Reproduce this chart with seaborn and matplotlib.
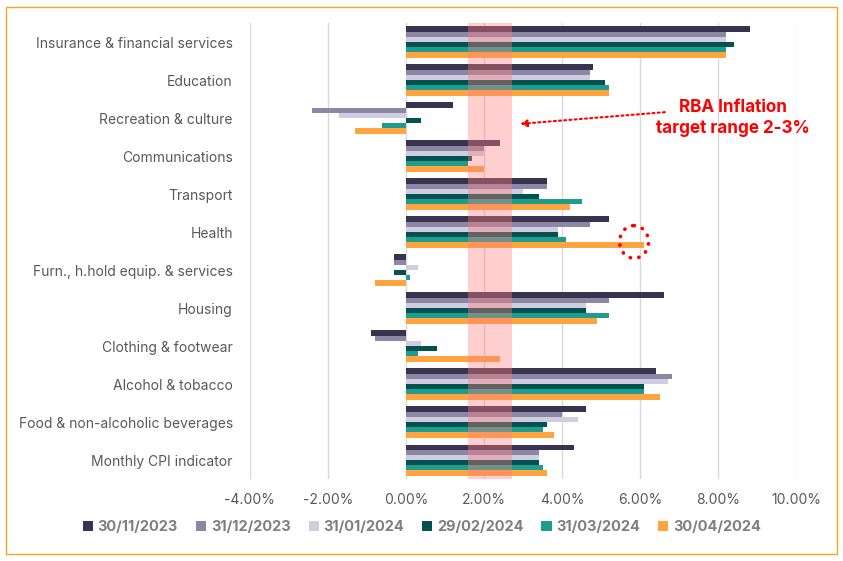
import pandas as pd
import numpy as np
import matplotlib
matplotlib.use("Agg")
import matplotlib.pyplot as plt
from matplotlib.patches import Rectangle, Ellipse
import seaborn as sns

categories = ["Insurance & financial services", "Education", "Recreation & culture",
              "Communications", "Transport", "Health",
              "Furn., h.hold equip. & services", "Housing", "Clothing & footwear",
              "Alcohol & tobacco", "Food & non-alcoholic beverages", "Monthly CPI indicator"]
dates = ["30/11/2023", "31/12/2023", "31/01/2024", "29/02/2024", "31/03/2024", "30/04/2024"]

nov23 = [8.8, 4.8, 1.2, 2.4, 3.6, 5.2, -0.3, 6.6, -0.9, 6.4, 4.6, 4.3]
dec23 = [8.2, 4.7, -2.4, 2.0, 3.6, 4.7, -0.3, 5.2, -0.8, 6.8, 4.0, 3.4]
jan24 = [8.2, 4.7, -1.7, 2.0, 3.0, 3.9, 0.3, 4.6, 0.4, 6.7, 4.4, 3.4]
feb24 = [8.4, 5.1, 0.4, 1.7, 3.4, 3.9, -0.3, 4.6, 0.8, 6.1, 3.6, 3.4]
mar24 = [8.2, 5.2, -0.6, 1.6, 4.5, 4.1, 0.1, 5.2, 0.3, 6.1, 3.5, 3.5]
apr24 = [8.2, 5.2, -1.3, 2.0, 4.2, 6.1, -0.8, 4.9, 2.4, 6.5, 3.8, 3.6]

colors = ["#3A3350", "#8B87A5", "#D0CDE1", "#03524F", "#1E9C8E", "#FFA440"]

series = [nov23, dec23, jan24, feb24, mar24, apr24]
rows = []
for d, vals in zip(dates, series):
    for c, v in zip(categories, vals):
        rows.append({"cat": c, "date": d, "value": v})
df = pd.DataFrame(rows)

sns.set_style("white")
plt.rcParams['font.family'] = ['Inter', 'DejaVu Sans']

fig = plt.figure(figsize=(8.43, 5.61), dpi=100)
ax = fig.add_axes([0.296, 0.146, 0.649, 0.813])

sns.barplot(data=df, x="value", y="cat", hue="date", order=categories,
            hue_order=dates, palette=colors, orient="h", width=0.82,
            saturation=1, linewidth=0, ax=ax, legend=True)

ax.set_xlim(-4, 10.0)
ax.set_ylim(len(categories) - 0.5, -0.5)
ax.set_xticks(np.arange(-4, 11, 2))
ax.set_xticklabels([f"{t:.2f}%" for t in np.arange(-4, 11, 2)])
ax.grid(axis="x", color="#D9D9D9", lw=1)
ax.set_axisbelow(True)
for s in ax.spines.values():
    s.set_visible(False)
ax.set_xlabel("")
ax.set_ylabel("")
ax.tick_params(axis="both", length=0, labelsize=10, labelcolor="#595959")
ax.tick_params(axis="y", pad=12)
ax.tick_params(axis="x", pad=10)

# RBA target band
ax.axvspan(1.58, 2.71, color="#FF8080", alpha=0.38, lw=0, zorder=5)

# annotation
ax.annotate("", xy=(2.85, 2.16), xytext=(6.7, 1.84),
            arrowprops=dict(arrowstyle="-|>", color="red", ls=(0, (1, 1.5)), lw=1.5,
                            mutation_scale=10))
ax.text(8.36, 2.0, "RBA Inflation\ntarget range 2-3%", color="red", fontsize=12.3,
        fontweight="bold", ha="center", va="center", linespacing=1.25)
circ = Ellipse((5.84, 5.26), 0.74, 0.86, fill=False, ec="red", lw=2.6,
               ls=(0, (0.1, 2.3)), zorder=6)
circ.set_capstyle("round")
ax.add_patch(circ)

leg = ax.legend(loc="center", bbox_to_anchor=(0.315, -0.105), ncol=6, frameon=False,
                handlelength=0.7, handleheight=0.7, handletextpad=0.3, columnspacing=1.25,
                fontsize=10.5)
for t in leg.get_texts():
    t.set_color("#7F7F7F")
    t.set_fontweight("bold")

fig.patches.append(Rectangle((0.007, 0.012), 0.986, 0.975, transform=fig.transFigure,
                             fill=False, ec="#F5A623", lw=1))

fig.savefig("out.png", dpi=100)
